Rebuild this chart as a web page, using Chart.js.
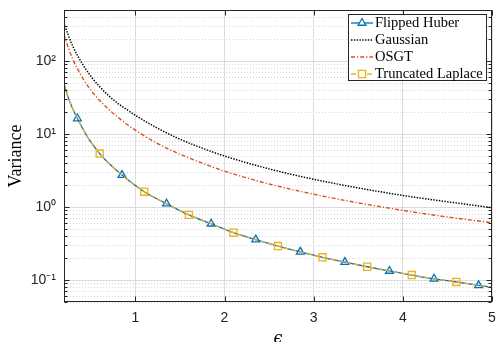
<!DOCTYPE html>
<html>
<head>
<meta charset="utf-8">
<script src="https://cdn.jsdelivr.net/npm/chart.js@4.4.1/dist/chart.umd.min.js"></script>
<style>
html, body { margin: 0; padding: 0; background: #fff; }
</style>
</head>
<body>
<canvas id="myChart" width="497" height="342"></canvas>
<script>
// values
const lineEps = [0.2, 0.25, 0.3, 0.4, 0.5, 0.6, 0.7, 0.8, 0.9, 1.0, 1.25, 1.5, 1.75, 2, 2.5, 3, 3.5, 4, 4.5, 5];
const gaussianVar = [330, 222, 158, 94, 62, 44.5, 33.5, 26.5, 21.8, 18, 12, 8.5, 6.4, 5.0, 3.33, 2.4, 1.83, 1.44, 1.18, 0.98];
const osgtVar = [232, 150, 105, 61, 40, 28.8, 21.8, 17.2, 13.7, 11.3, 7.4, 5.3, 4.0, 3.1, 2.07, 1.5, 1.14, 0.9, 0.73, 0.61];

const lapEps = [0.2, 0.25, 0.3, 0.35, 0.45, 0.5, 0.6, 0.7, 0.85, 1.1, 1.35, 1.6, 1.85, 2.1, 2.35, 2.6, 2.85, 3.1, 3.35, 3.6, 3.85, 4.1, 4.35, 4.6, 4.85, 5];
const huberVar = [48, 31, 21.9, 16.3, 9.7, 7.8, 5.4, 4.0, 2.74, 1.62, 1.11, 0.78, 0.59, 0.445, 0.357, 0.292, 0.243, 0.205, 0.176, 0.152, 0.133, 0.117, 0.104, 0.094, 0.0845, 0.0795];
const laplaceVar = [48, 31, 21.9, 16.3, 9.7, 7.8, 5.4, 4.0, 2.74, 1.62, 1.11, 0.78, 0.59, 0.445, 0.357, 0.292, 0.243, 0.205, 0.176, 0.152, 0.133, 0.117, 0.104, 0.094, 0.0845, 0.0795];

const huberMarks = [0.35, 0.85, 1.35, 1.85, 2.35, 2.85, 3.35, 3.85, 4.35, 4.85];
const laplaceMarks = [0.6, 1.1, 1.6, 2.1, 2.6, 3.1, 3.6, 4.1, 4.6];

const xTicks = [1, 2, 3, 4, 5];
const yTicks = [0.1, 1, 10, 100];

const axisColor = '#262626';
const sup = { '-': '\u207B', '0': '\u2070', '1': '\u00B9', '2': '\u00B2', '3': '\u00B3' };

function pts(xs, ys) {
    return xs.map((x, i) => ({ x: x, y: ys[i] }));
}
function markerRadius(marks, r) {
    return (ctx) => {
        const p = ctx.raw;
        return p && marks.some(m => Math.abs(m - p.x) < 1e-9) ? r : 0;
    };
}

// MATLAB-like box, inward ticks, minor grid and legend
const matlabAxes = {
    id: 'matlabAxes',
    beforeDatasetsDraw(chart) {
        const { ctx, chartArea: a, scales: { y } } = chart;
        ctx.save();
        ctx.strokeStyle = '#d6d6d6';
        ctx.lineWidth = 1;
        ctx.setLineDash([1, 2]);
        for (let k = -2; k <= 2; k++) {
            for (let m = 2; m <= 9; m++) {
                const v = m * Math.pow(10, k);
                if (v < y.min || v > y.max) continue;
                const py = Math.round(y.getPixelForValue(v)) + 0.5;
                ctx.beginPath();
                ctx.moveTo(a.left, py);
                ctx.lineTo(a.right, py);
                ctx.stroke();
            }
        }
        ctx.restore();
    },
    afterDraw(chart) {
        const { ctx, chartArea: a, scales: { x, y } } = chart;
        ctx.save();
        ctx.strokeStyle = axisColor;
        ctx.lineWidth = 1;
        ctx.setLineDash([]);
        const L = Math.round(a.left) + 0.5, R = Math.round(a.right) - 0.5;
        const T = Math.round(a.top) + 0.5, B = Math.round(a.bottom) - 0.5;
        ctx.strokeRect(L, T, R - L, B - T);
        ctx.beginPath();
        xTicks.forEach(v => {
            const px = Math.round(x.getPixelForValue(v)) + 0.5;
            ctx.moveTo(px, B); ctx.lineTo(px, B - 5);
            ctx.moveTo(px, T); ctx.lineTo(px, T + 5);
        });
        for (let k = -2; k <= 2; k++) {
            for (let m = 1; m <= 9; m++) {
                const v = m * Math.pow(10, k);
                if (v < y.min || v > y.max) continue;
                const py = Math.round(y.getPixelForValue(v)) + 0.5;
                const len = m === 1 ? 5 : 3;
                ctx.moveTo(L, py); ctx.lineTo(L + len, py);
                ctx.moveTo(R, py); ctx.lineTo(R - len, py);
            }
        }
        ctx.stroke();

        // legend
        const bx = 348.5, by = 14.5, bw = 138, bh = 66;
        ctx.fillStyle = '#fff';
        ctx.fillRect(bx, by, bw, bh);
        ctx.strokeRect(bx, by, bw, bh);
        chart.data.datasets.forEach((ds, i) => {
            const ry = 23 + i * 17;
            ctx.save();
            ctx.strokeStyle = ds.borderColor;
            ctx.lineWidth = ds.borderWidth;
            ctx.setLineDash(ds.borderDash || []);
            ctx.beginPath();
            ctx.moveTo(351, ry);
            ctx.lineTo(373, ry);
            ctx.stroke();
            ctx.restore();
            if (ds.legendMarker) {
                ctx.strokeStyle = ds.borderColor;
                ctx.lineWidth = ds.pointBorderWidth;
                ctx.setLineDash([]);
                ctx.fillStyle = '#fff';
                Chart.helpers.drawPoint(ctx, {
                    pointStyle: ds.pointStyle,
                    radius: ds.legendMarker,
                    borderWidth: ds.pointBorderWidth,
                }, 362, ry);
            }
            ctx.fillStyle = '#000';
            ctx.font = '14.5px "Liberation Serif", serif';
            ctx.textBaseline = 'middle';
            ctx.textAlign = 'left';
            ctx.fillText(ds.label, 375, ry + 0.5);
        });
        ctx.restore();
    }
};

const ctx = document.getElementById('myChart').getContext('2d');
new Chart(ctx, {
    type: 'line',
    data: {
        datasets: [{
            label: 'Flipped Huber',
            data: pts(lapEps, huberVar),
            borderColor: '#0072BD',
            borderWidth: 1.3,
            pointStyle: 'triangle',
            pointRadius: markerRadius(huberMarks, 4.5),
            pointBorderWidth: 1.3,
            pointBorderColor: '#0072BD',
            pointBackgroundColor: 'rgba(0,0,0,0)',
            legendMarker: 4.5,
            order: 3
        }, {
            label: 'Gaussian',
            data: pts(lineEps, gaussianVar),
            borderColor: '#000000',
            borderWidth: 1.5,
            borderDash: [1.4, 1.4],
            pointRadius: 0,
            order: 2
        }, {
            label: 'OSGT',
            data: pts(lineEps, osgtVar),
            borderColor: '#D95319',
            borderWidth: 1.4,
            borderDash: [4, 2, 1.2, 2],
            pointRadius: 0,
            order: 1
        }, {
            label: 'Truncated Laplace',
            data: pts(lapEps, laplaceVar),
            borderColor: '#EDB120',
            borderWidth: 1.3,
            borderDash: [5, 3],
            pointStyle: 'rect',
            pointRadius: markerRadius(laplaceMarks, 5),
            pointBorderWidth: 1.3,
            pointBorderColor: '#EDB120',
            pointBackgroundColor: 'rgba(0,0,0,0)',
            legendMarker: 5,
            order: 0
        }]
    },
    options: {
        responsive: false,
        animation: false,
        cubicInterpolationMode: 'monotone',
        layout: { padding: { left: 0, right: 5, top: 10, bottom: 0 } },
        plugins: {
            legend: { display: false },
            tooltip: { enabled: false }
        },
        scales: {
            x: {
                type: 'linear',
                min: 0.2,
                max: 5,
                afterBuildTicks: (s) => { s.ticks = xTicks.map(v => ({ value: v })); },
                afterFit: (s) => {
                    s.height = 40;
                    s.paddingLeft = 0; s.paddingRight = 0;
                },
                grid: { color: '#dcdcdc', drawTicks: false },
                border: { display: false },
                ticks: {
                    padding: 8,
                    maxRotation: 0,
                    autoSkip: false,
                    color: axisColor,
                    font: { family: '"Liberation Sans", Arial, sans-serif', size: 14 }
                },
                title: {
                    display: true,
                    text: '\u03F5',
                    color: '#000',
                    font: { family: '"DejaVu Serif", serif', style: 'italic', size: 16 },
                    padding: { top: 0, bottom: -6 }
                }
            },
            y: {
                type: 'logarithmic',
                min: 0.05,
                max: 500,
                afterBuildTicks: (s) => { s.ticks = yTicks.map(v => ({ value: v })); },
                afterFit: (s) => {
                    s.width = 64;
                    s.paddingTop = 0; s.paddingBottom = 0;
                },
                grid: { color: '#dcdcdc', drawTicks: false },
                border: { display: false },
                ticks: {
                    padding: 8,
                    color: axisColor,
                    font: { family: '"Liberation Sans", Arial, sans-serif', size: 14 },
                    callback: (v) => {
                        const e = Math.round(Math.log10(v));
                        return '10' + String(e).split('').map(c => sup[c]).join('');
                    }
                },
                title: {
                    display: true,
                    text: 'Variance',
                    color: '#000',
                    font: { family: '"Liberation Serif", serif', size: 18 },
                    padding: { top: 5, bottom: 0 }
                }
            }
        }
    },
    plugins: [matlabAxes]
});
</script>
</body>
</html>
